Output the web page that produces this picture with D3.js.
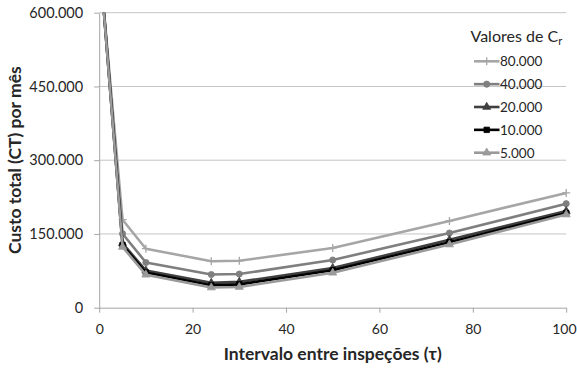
<!DOCTYPE html>
<html>
<head>
<meta charset="utf-8">
<script src="https://cdn.jsdelivr.net/npm/d3@7"></script>
<style>
  html, body { margin: 0; padding: 0; background: #fff; }
  svg { display: block; }
  text { font-family: Lato, "Noto Sans", sans-serif; fill: #262626; }
</style>
</head>
<body>
<svg id="chart" width="577" height="369"></svg>
<script>
// Inspection interval (tau) values
const tau = [1, 5, 10, 24, 30, 50, 75, 100];

// Total monthly cost for each value of Cr
const ct80000 = [606000, 179000, 120000, 94500, 95500, 121500, 176500, 233500];
const ct40000 = [604000, 150500, 92000, 67500, 68500, 97000, 152000, 211500];
const ct20000 = [603000, 131000, 75500, 50500, 52500, 80500, 138000, 196500];
const ct10000 = [602000, 127000, 71500, 45500, 47500, 76000, 133000, 192500];
const ct5000  = [601000, 123500, 67000, 41000, 42000, 71000, 128500, 189500];

const seriesNames = ["80.000", "40.000", "20.000", "10.000", "5.000"];
const seriesValues = [ct80000, ct40000, ct20000, ct10000, ct5000];

const xTicks = [0, 20, 40, 60, 80, 100];
const yTicks = [0, 150000, 300000, 450000, 600000];

const styles = [
  { color: "#a6a6a6", marker: "plus" },
  { color: "#7f7f7f", marker: "circle" },
  { color: "#404040", marker: "triangle" },
  { color: "#000000", marker: "square" },
  { color: "#9a9a9a", marker: "triangle" }
];

const svg = d3.select("#chart");
const plot = { left: 99.2, right: 566.2, top: 12.7, bottom: 307.7 };

const x = d3.scaleLinear().domain([0, 100]).range([plot.left, plot.right]);
const y = d3.scaleLinear().domain([0, 600000]).range([plot.bottom, plot.top]);

const fmt = v => v === 0 ? "0" : d3.format(",")(v).replace(/,/g, ".");

// Horizontal gridlines
svg.append("g")
  .selectAll("line")
  .data(yTicks.filter(d => d > 0))
  .join("line")
  .attr("x1", plot.left).attr("x2", plot.right)
  .attr("y1", d => y(d)).attr("y2", d => y(d))
  .attr("stroke", "#c4c4c4").attr("stroke-width", 1);

// Y axis
const yAxis = svg.append("g")
  .attr("transform", `translate(${plot.left},0)`)
  .call(d3.axisLeft(y).tickValues(yTicks).tickFormat(fmt).tickSizeInner(5).tickSizeOuter(0).tickPadding(11));
yAxis.select(".domain").attr("stroke", "#a6a6a6");
yAxis.selectAll(".tick line").attr("stroke", "#a6a6a6");
yAxis.selectAll(".tick text")
  .style("font-family", "Lato, sans-serif").style("font-size", "14.5px").attr("fill", "#262626");

// X axis
const xAxis = svg.append("g")
  .attr("transform", `translate(0,${plot.bottom})`)
  .call(d3.axisBottom(x).tickValues(xTicks).tickFormat(d3.format("d")).tickSizeInner(5).tickSizeOuter(0).tickPadding(11));
xAxis.select(".domain").attr("stroke", "#a6a6a6");
xAxis.selectAll(".tick line").attr("stroke", "#a6a6a6");
xAxis.selectAll(".tick text")
  .style("font-family", "Lato, sans-serif").style("font-size", "14px").attr("fill", "#262626");
// keep the last label inside the page edge
xAxis.selectAll(".tick text")
  .filter(d => d === 100)
  .attr("text-anchor", "end")
  .attr("x", 576 - plot.right);

// Axis titles
svg.append("text")
  .attr("x", (plot.left + plot.right) / 2)
  .attr("y", 360)
  .attr("text-anchor", "middle")
  .style("font-size", "17.5px").style("font-weight", "bold")
  .text("Intervalo entre inspeções (τ)");

svg.append("text")
  .attr("transform", `translate(21,${(plot.top + plot.bottom) / 2}) rotate(-90)`)
  .attr("text-anchor", "middle")
  .style("font-size", "17.5px").style("font-weight", "bold")
  .text("Custo total (CT) por mês");

// Clip lines and markers at the top of the plot area
svg.append("clipPath").attr("id", "plotClip")
  .append("rect")
  .attr("x", 0).attr("y", plot.top)
  .attr("width", 577).attr("height", 369 - plot.top);

const line = d3.line().x(d => x(d[0])).y(d => y(d[1]));

function markerPath(kind) {
  if (kind === "plus") return "M-4,0H4M0,-4V4";
  if (kind === "circle") return d3.symbol(d3.symbolCircle, 30)();
  if (kind === "triangle") return d3.symbol(d3.symbolTriangle, 28)();
  return d3.symbol(d3.symbolSquare, 30)();
}

function drawMarker(g, kind, color) {
  const p = g.append("path").attr("d", markerPath(kind));
  if (kind === "plus") p.attr("fill", "none").attr("stroke", color).attr("stroke-width", 1.3);
  else p.attr("fill", color).attr("stroke", color).attr("stroke-width", 0.8);
}

const seriesLayer = svg.append("g").attr("clip-path", "url(#plotClip)");

seriesValues.forEach((vals, i) => {
  const pts = tau.map((t, k) => [t, vals[k]]);
  const g = seriesLayer.append("g");
  g.append("path")
    .attr("d", line(pts))
    .attr("fill", "none")
    .attr("stroke", styles[i].color)
    .attr("stroke-width", 2.6)
    .attr("stroke-linejoin", "round");
  pts.filter(p => p[1] <= 600000).forEach(p => {
    const m = g.append("g").attr("transform", `translate(${x(p[0])},${y(p[1])})`);
    drawMarker(m, styles[i].marker, styles[i].color);
  });
});

// Legend
const legend = svg.append("g");
const legTitle = legend.append("text")
  .attr("x", 470.5).attr("y", 42)
  .style("font-size", "16px");
legTitle.append("tspan").text("Valores de C");
legTitle.append("tspan").attr("dy", 3).style("font-size", "11px").text("r");

seriesNames.forEach((name, i) => {
  const cy = 61.3 + i * 22.85;
  const item = legend.append("g");
  item.append("line")
    .attr("x1", 474).attr("x2", 499.5)
    .attr("y1", cy).attr("y2", cy)
    .attr("stroke", styles[i].color).attr("stroke-width", 2.6);
  const m = item.append("g").attr("transform", `translate(486.7,${cy})`);
  drawMarker(m, styles[i].marker, styles[i].color);
  item.append("text")
    .attr("x", 500).attr("y", cy)
    .attr("dominant-baseline", "central")
    .style("font-size", "13.5px")
    .text(name);
});
</script>
</body>
</html>
